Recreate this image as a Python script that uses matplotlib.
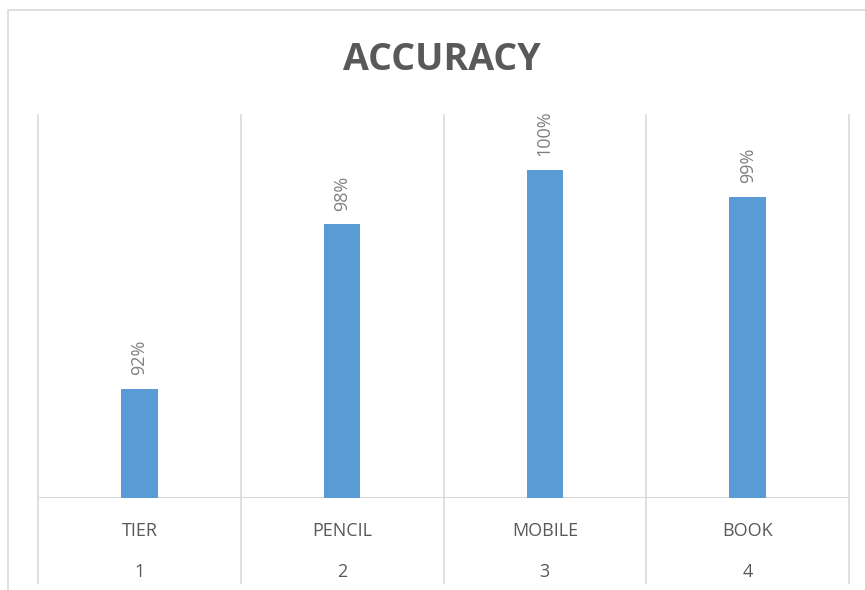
import matplotlib
matplotlib.use("Agg")
import matplotlib.pyplot as plt
from matplotlib.patches import Rectangle
from matplotlib.lines import Line2D

# data
categories = ["TIER", "PENCIL", "MOBILE", "BOOK"]
numbers = ["1", "2", "3", "4"]
accuracy = [92, 98, 100, 99]

plt.rcParams['font.family'] = ['Open Sans', 'DejaVu Sans']

W, H = 865, 590
fig = plt.figure(figsize=(W / 100, H / 100), dpi=100)

# chart border (cropped at bottom/right)
fig.patches.append(Rectangle((8 / W, -0.1), 1.2, (H - 9.5) / H + 0.1,
                             transform=fig.transFigure, fill=False,
                             edgecolor='#d9d9d9', linewidth=1.2))

left, right, bottom, top = 38, 849, 498, 115
ax = fig.add_axes([left / W, (H - bottom) / H, (right - left) / W, (bottom - top) / H])

x = list(range(1, len(categories) + 1))
ax.bar(x, accuracy, width=0.18, color='#5b9bd5', zorder=3)
ax.set_xlim(0.5, len(categories) + 0.5)
ax.set_ylim(88, 102)

for spine in ax.spines.values():
    spine.set_visible(False)
ax.set_xticks([])
ax.set_yticks([])

# vertical separators extending into the label area
ylow = -(583 - bottom) / (bottom - top)
for b in [i + 0.5 for i in range(len(categories) + 1)]:
    ax.add_line(Line2D([b, b], [ylow, 1.0], transform=ax.get_xaxis_transform(),
                       color='#d9d9d9', linewidth=1.2, clip_on=False, zorder=1))
ax.axhline(88, color='#d9d9d9', linewidth=1.5, zorder=2)

# data labels
for xi, v in zip(x, accuracy):
    ax.annotate(f"{v}%", (xi, v), xytext=(0, 10), textcoords='offset points',
                rotation=90, ha='center', va='bottom', fontsize=13, color='#808080')

# two-level category labels
for xi, c, n in zip(x, categories, numbers):
    ax.text(xi, -(531 - bottom) / (bottom - top), c, transform=ax.get_xaxis_transform(),
            ha='center', va='center', fontsize=13, color='#595959')
    ax.text(xi, -(572 - bottom) / (bottom - top), n, transform=ax.get_xaxis_transform(),
            ha='center', va='center', fontsize=13, color='#595959')

fig.text((335 + 548) / 2 / W, 1 - 60 / H, "ACCURACY", ha='center', va='center',
         fontsize=27, fontweight='bold', color='#595959')

fig.savefig("out.png", dpi=100)
